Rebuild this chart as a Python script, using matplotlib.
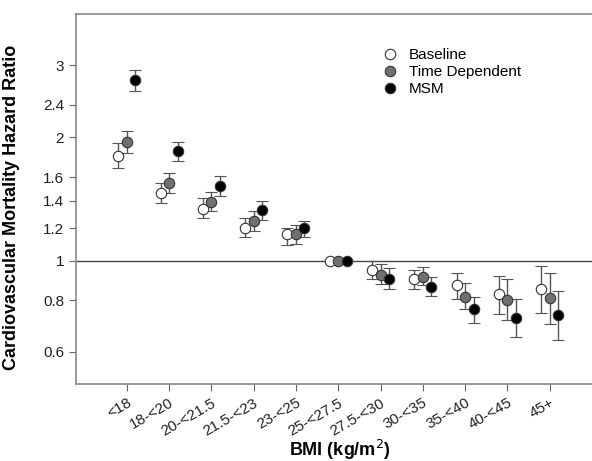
import matplotlib.pyplot as plt
from matplotlib.lines import Line2D
import numpy as np

plt.rcParams['font.family'] = ['Liberation Sans', 'DejaVu Sans']

categories = ['<18', '18-<20', '20-<21.5', '21.5-<23', '23-<25', '25-<27.5',
              '27.5-<30', '30-<35', '35-<40', '40-<45', '45+']

base_hr = [1.80, 1.46, 1.34, 1.20, 1.16, 1.00, 0.95, 0.90, 0.874, 0.827, 0.855]
base_lo = [1.68, 1.38, 1.27, 1.14, 1.09, 1.00, 0.90, 0.855, 0.808, 0.743, 0.747]
base_hi = [1.94, 1.55, 1.42, 1.27, 1.20, 1.00, 1.00, 0.95, 0.935, 0.919, 0.972]

td_hr = [1.95, 1.55, 1.39, 1.25, 1.16, 1.00, 0.925, 0.914, 0.817, 0.80, 0.81]
td_lo = [1.83, 1.46, 1.32, 1.18, 1.10, 1.00, 0.875, 0.87, 0.76, 0.718, 0.702]
td_hi = [2.07, 1.64, 1.47, 1.32, 1.22, 1.00, 0.98, 0.966, 0.884, 0.90, 0.935]

msm_hr = [2.76, 1.85, 1.52, 1.33, 1.20, 1.00, 0.904, 0.864, 0.76, 0.726, 0.735]
msm_lo = [2.59, 1.75, 1.44, 1.26, 1.14, 1.00, 0.855, 0.82, 0.706, 0.65, 0.639]
msm_hi = [2.92, 1.95, 1.61, 1.40, 1.25, 1.00, 0.96, 0.914, 0.817, 0.808, 0.845]

yticks = [0.6, 0.8, 1, 1.2, 1.4, 1.6, 2, 2.4, 3]
ytick_labels = ['0.6', '0.8', '1', '1.2', '1.4', '1.6', '2', '2.4', '3']

series = [
    ('Baseline', base_hr, base_lo, base_hi, -0.2, 'white'),
    ('Time Dependent', td_hr, td_lo, td_hi, 0.0, '#707070'),
    ('MSM', msm_hr, msm_lo, msm_hi, 0.2, 'black'),
]

fig = plt.figure(figsize=(5.92, 4.61), dpi=100)
ax = fig.add_axes([76 / 592, 77 / 461, 516 / 592, 370 / 461])

x = np.arange(len(categories))
ax.axhline(1, color='#444444', linewidth=1, zorder=1)

handles = []
for name, hr, lo, hi, off, fc in series:
    hr = np.array(hr)
    err = [hr - np.array(lo), np.array(hi) - hr]
    ax.errorbar(x + off, hr, yerr=err, fmt='o', markersize=7.5,
                markerfacecolor=fc, markeredgecolor='#333333', markeredgewidth=0.8,
                ecolor='#555555', elinewidth=1, capsize=4, capthick=1, zorder=3)
    handles.append(Line2D([], [], linestyle='none', marker='o', markersize=7.5,
                          markerfacecolor=fc, markeredgecolor='#333333',
                          markeredgewidth=0.8, label=name))

ax.set_yscale('log')
ax.set_ylim(0.5, 4.0)
ax.set_xlim(-1.2, 11.0)
ax.set_yticks(yticks)
ax.set_yticklabels(ytick_labels)
ax.minorticks_off()
ax.set_xticks(x)
ax.set_xticklabels(categories, rotation=30, ha='right', rotation_mode='anchor')

for s in ['left', 'bottom', 'top']:
    ax.spines[s].set_color('#888888')
    ax.spines[s].set_linewidth(1.2)
ax.spines['right'].set_visible(False)
ax.tick_params(direction='out', color='#666666', length=5, labelsize=11, labelcolor='#222222')

ax.set_xlabel('BMI (kg/m$^2$)', fontsize=13, fontweight='bold')
ax.set_ylabel('Cardiovascular Mortality Hazard Ratio', fontsize=13, fontweight='bold')
ax.xaxis.set_label_coords(0.512, -0.145)
ax.yaxis.set_label_coords(-0.108, 0.478)

ax.legend(handles=handles, loc='upper left', bbox_to_anchor=(0.565, 0.945), frameon=False,
          fontsize=11, handletextpad=0.6, labelspacing=0.2, handlelength=1.2)

fig.savefig('out.png', dpi=100)
